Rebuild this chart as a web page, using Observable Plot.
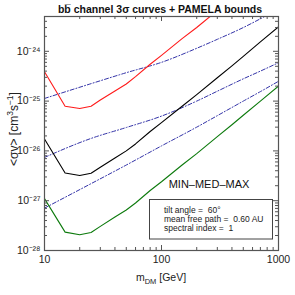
<!DOCTYPE html>
<html><head><meta charset="utf-8">
<script src="https://cdn.jsdelivr.net/npm/d3@7"></script>
<script src="https://cdn.jsdelivr.net/npm/@observablehq/plot@0.6"></script>
<style>body{margin:0;background:#fff}</style>
</head><body><div id="chart"></div>
<script>
// ---- data ----
const massCurve = [10,15,20,25,30,40,50,60,80,100,150,200,300,400,500,700,1000];
const medCurve  = [1.74e-26,3.6e-27,3.2e-27,3.55e-27,4.7e-27,7.2e-27,1.0e-26,1.38e-26,2.45e-26,3.7e-26,7.9e-26,1.35e-25,2.95e-25,5.1e-25,7.9e-25,1.55e-24,3.1e-24];
const maxCurve  = [3.9e-25,7.9e-26,7.1e-26,7.9e-26,1.05e-25,1.6e-25,2.2e-25,3.1e-25,5.5e-25,8.3e-25,1.8e-24,3.0e-24,6.6e-24];
const minCurve  = [1.1e-27,2.34e-28,2.07e-28,2.3e-28,3.05e-28,4.7e-28,6.5e-28,9.0e-28,1.6e-27,2.4e-27,5.2e-27,8.8e-27,1.93e-26,3.35e-26,5.2e-26,1.0e-25,2.0e-25];
const massBound = [10,25,50,100,200,300,500,700,1000];
const boundUpper  = [1.13e-25,2.24e-25,3.72e-25,6.0e-25,1.15e-24,1.74e-24,3.0e-24,4.5e-24,7.1e-24];
const boundMiddle = [7.4e-27,1.78e-26,2.95e-26,5.0e-26,1.0e-25,1.58e-25,2.8e-25,4.0e-25,5.9e-25];
const boundLower  = [7.1e-28,2.2e-27,5.2e-27,1.26e-26,3.0e-26,5.1e-26,1.0e-25,1.55e-25,2.5e-25];
const xMajor = [10,100,1000];
const xMinor = [20,30,40,50,60,70,80,90,200,300,400,500,600,700,800,900];
const yMajor = [1e-28,1e-27,1e-26,1e-25,1e-24];
const yMinorMult = [2,3,4,5,6,7,8,9];
const yMinor = yMajor.flatMap(d => yMinorMult.map(k => k*d)).filter(v => v < 5e-24);
const titleText = "b\u0062\u0305 channel 3\u03c3 curves + PAMELA bounds";
const infoLines = ["tilt angle =  60\u00b0","mean free path =  0.60 AU","spectral index =  1"];

// ---- layout ----
const W = 295, H = 295, ML = 44, MR = 17, MT = 16, MB = 45;
const iW = W - ML - MR, iH = H - MT - MB;
const FONT = "'Liberation Sans', Arial, Helvetica, sans-serif";
const supMap = {"-":"\u207b","0":"\u2070","1":"\u00b9","2":"\u00b2","3":"\u00b3","4":"\u2074","5":"\u2075","6":"\u2076","7":"\u2077","8":"\u2078","9":"\u2079"};
const sup = d => "10" + String(Math.round(Math.log10(d))).split("").map(c => supMap[c]).join("");

const rows = (ms, vs) => vs.map((v,i) => ({m: ms[i], v}));
const axisCol = "#555";
const blue = "#3434a8";

const chart = Plot.plot({
  width: W, height: H,
  marginLeft: ML, marginRight: MR, marginTop: MT, marginBottom: MB,
  style: {fontFamily: FONT, background: "#fff", color: "#222"},
  x: {type: "log", domain: [10, 1000], axis: null},
  y: {type: "log", domain: [1e-28, 5e-24], axis: null},
  marks: [
    Plot.line(rows(massBound, boundUpper),  {x: "m", y: "v", stroke: blue, strokeWidth: 1, strokeDasharray: "4,2,1,2", curve: "monotone-x", clip: true}),
    Plot.line(rows(massBound, boundMiddle), {x: "m", y: "v", stroke: blue, strokeWidth: 1, strokeDasharray: "4,2,1,2", curve: "monotone-x", clip: true}),
    Plot.line(rows(massBound, boundLower),  {x: "m", y: "v", stroke: blue, strokeWidth: 1, strokeDasharray: "4,2,1,2", curve: "monotone-x", clip: true}),
    Plot.line(rows(massCurve, maxCurve), {x: "m", y: "v", stroke: "#ff1a1a", strokeWidth: 1.1, clip: true}),
    Plot.line(rows(massCurve, medCurve), {x: "m", y: "v", stroke: "#000", strokeWidth: 1.1, clip: true}),
    Plot.line(rows(massCurve, minCurve), {x: "m", y: "v", stroke: "#0c7a0c", strokeWidth: 1.1, clip: true}),
    // ticks, inward on all four sides
    Plot.tickX(xMajor, {x: d => d, insetTop: iH - 5, stroke: axisCol}),
    Plot.tickX(xMajor, {x: d => d, insetBottom: iH - 5, stroke: axisCol}),
    Plot.tickX(xMinor, {x: d => d, insetTop: iH - 3, stroke: axisCol}),
    Plot.tickX(xMinor, {x: d => d, insetBottom: iH - 3, stroke: axisCol}),
    Plot.tickY(yMajor, {y: d => d, insetRight: iW - 5, stroke: axisCol}),
    Plot.tickY(yMajor, {y: d => d, insetLeft: iW - 5, stroke: axisCol}),
    Plot.tickY(yMinor, {y: d => d, insetRight: iW - 3, stroke: axisCol}),
    Plot.tickY(yMinor, {y: d => d, insetLeft: iW - 3, stroke: axisCol}),
    Plot.axisX({ticks: xMajor, tickSize: 0, tickPadding: 5, tickFormat: d => String(d), fontSize: 10.5, label: null}),
    Plot.axisY({ticks: yMajor, tickSize: 0, tickPadding: 4, tickFormat: sup, fontSize: 10.5, label: null}),
    Plot.frame({stroke: axisCol, strokeWidth: 1.2})
  ]
});
document.getElementById("chart").appendChild(chart);

// ---- text annotations ----
const svg = d3.select(chart);
svg.append("text").attr("x", 160).attr("y", 12.5).attr("text-anchor", "middle")
  .attr("font-family", FONT).attr("font-size", 10.5).attr("font-weight", "bold").attr("fill", "#111").text(titleText);

const xl = svg.append("text").attr("x", 161).attr("y", 281).attr("text-anchor", "middle")
  .attr("font-family", FONT).attr("font-size", 10.5).attr("fill", "#222");
xl.append("tspan").text("m");
xl.append("tspan").attr("font-size", 7.5).attr("dy", 2.5).text("DM");
xl.append("tspan").attr("dy", -2.5).text(" [GeV]");

const yl = svg.append("text").attr("transform", "translate(18,129) rotate(-90)").attr("text-anchor", "middle")
  .attr("font-family", FONT).attr("font-size", 12).attr("fill", "#222");
yl.append("tspan").text("<\u03c3v> [cm");
yl.append("tspan").attr("font-size", 8.5).attr("dy", -5).text("3");
yl.append("tspan").attr("dy", 5).text("s");
yl.append("tspan").attr("font-size", 8.5).attr("dy", -5).text("\u22121");
yl.append("tspan").attr("dy", 5).text("]");

svg.append("text").attr("x", 209).attr("y", 188).attr("text-anchor", "middle")
  .attr("font-family", FONT).attr("font-size", 11).attr("fill", "#111").text("MIN\u2013MED\u2013MAX");

svg.append("rect").attr("x", 149.5).attr("y", 199.5).attr("width", 123).attr("height", 39.5)
  .attr("fill", "none").attr("stroke", "#444").attr("stroke-width", 1);
infoLines.forEach((t, i) => {
  svg.append("text").attr("x", 164).attr("y", 213 + i * 9).attr("text-anchor", "start").attr("font-family", FONT)
    .attr("font-size", 8.5).attr("fill", "#222").text(t);
});
</script></body></html>
